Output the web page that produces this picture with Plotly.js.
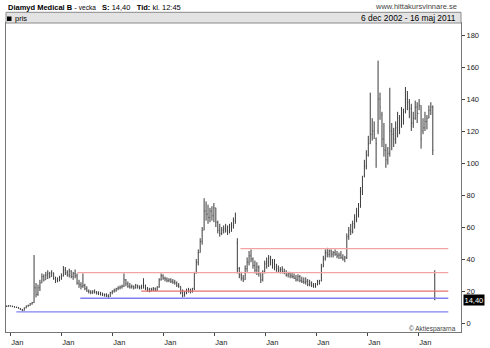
<!DOCTYPE html>
<html>
<head>
<meta charset="utf-8">
<script src="https://cdn.plot.ly/plotly-3.0.1.min.js"></script>
<style>html,body{margin:0;padding:0;background:#fff}#chart{width:490px;height:348px}</style>
</head>
<body>
<div id="chart"></div>
<script>
// Weekly price bars (every second week), Diamyd Medical B, 6 dec 2002 - 16 maj 2011
const startDate = '2002-12-06';
const stepDays = 14;
const high = [
 11,11.2,11,10.8,10.5,10.2,10,9.4,8.8,9.8,
 11,11.5,12.5,13.2,42.5,25,24,27,31,30.5,
 32,33,32,33,31.5,29,28.5,29.5,31,35.6,
 35,33,34,33,32,33.5,31,27,25.5,31,
 24.5,23,21,20.5,20.5,21,20,19.8,19.5,19,
 18.5,18.6,18,19.5,20.5,21.5,22,23,23.5,24,
 31,27.5,26,25,24,23.5,24.5,24,23.5,24,
 28,24,22.5,22,22,22.5,22.2,23,28,31,
 30.5,29,28.5,28,28,27.5,27,26,25,23,
 21,20,21.5,22,21.5,22,32,40,46,53,
 60,78,76,74,72,73,75,72,64,62,
 60,61,62,61,62,63,66,69,53,35,
 32,30,36,41,45,46,41,39,38,36,
 31,33,39,41,42.5,42,40,40,37,36,
 35,35.5,34,33,32,32,31.5,31,30,30.5,
 30,29,28.5,28.5,27.5,27,26,25,25,27,
 27,37,42,46,47,46,46,45,46,45,
 44,45,43,42,56,60,62,64,68,72,
 75,85,92,102,108,117,144,128,126,116,
 164,144,132,125,112,110,147,125,122,126,
 132,130,135,134,147.5,145,140,137,132,139,
 138,140,136,128,132,130,136,138,136,33];
const low = [
 10,10.2,10.3,10,9.6,9.4,9,8.2,7.4,7.8,
 9.2,10.2,10.8,11.5,12.5,16,17,20,25,26,
 27,27.5,28,29,27,25,25.5,26,27,29,
 30,29,28.5,28,27,28,24,22,21,22,
 20.5,19.5,18.5,18,18.2,18.5,17.8,17.5,17.2,16.8,
 16.5,16.2,15.8,16.5,18,19,19.5,20.5,21,21.5,
 22.5,23,22,21.5,21.5,21,21.5,21.5,21,21.2,
 21.5,20.5,19.5,19.2,19.8,20,20,20.2,22,26.5,
 27,26,25.5,25.5,25,24.5,24,22.5,22,18,
 16,16.5,18,19,18.5,19,20.5,31,36,44,
 49,58,64,62,63,64,63,60,56,54,
 55,56,56.5,55,56,57,59,62,31,28,
 26.5,25.6,27,32,36,38,34,31,30,29,
 25,26,31,34,35,36,34,33,32,31.5,
 31,31,30.5,29,28.5,28,28,27.5,26,26,
 25.5,25,24.5,24,23,23,22.5,22,22,23.5,
 24,26,35,39,41,41,41,41,42,40.5,
 40,40,39,38,40,52,55,56,59,63,
 66,72,80,91,96,104,112,114,115,97,
 118,127,110,104,97,99,104,108,110,112,
 116,118,122,124,131,133,128,120,122,127,
 125,133,109,118,120,121,128,130,105,14.4];
const open = [
 10.4,10.5,10.8,10.6,10.2,10,9.8,9.2,8.5,7.8,
 9.5,10.6,11,12,12.8,22,18,22,25,29,
 27,30,31,29,31.5,28,27,26.5,28.5,29.5,
 33,31.5,30,32.5,29,31,29.5,25,24,23,
 23.5,21.5,20,19.5,19,19.8,19,18.5,18.8,18,
 17.5,17.8,17,16.5,19,20,20.5,21.5,22,22.5,
 23,27,24.5,23,22.5,23,22,23.5,22.5,22,
 23,23.5,21.5,20.5,20,21,21.5,20.5,22.5,27,
 29.5,28,27.5,26.5,27,26,25.5,25,23.5,23,
 19,17,18.5,20.5,21,19.5,21.5,31,38,44,
 51,58,70,68,66,70,67,72,63,58,
 56,58,59,58,57,60,61,64,50,34,
 30,28,27,34,38,42,40,36,33,35,
 31,27,32,37,38,40,38,37,35,34,
 33,33.5,32,31.5,30,31,29.5,29,28,27,
 29,26.5,26,25.5,26,24,25,23.5,23,24.5,
 26,26.5,35,40,44,43,45,43,44,43,
 42,42.5,41,40,41,54,58,57,62,65,
 70,73,82,92,98,105,112,118,120,115,
 120,140,130,115,108,102,106,120,118,115,
 122,128,124,130,132,140,138,134,125,128,
 135,131,136,120,122,126,128,133,135,30];
const close = [
 10.5,10.8,10.6,10.2,10,9.8,9.2,8.5,7.8,9.5,
 10.6,11,12,12.8,22,18,22,25,29,27,
 30,31,29,31.5,28,27,26.5,28.5,29.5,33,
 31.5,30,32.5,29,31,29.5,25,24,23,23.5,
 21.5,20,19.5,19,19.8,19,18.5,18.8,18,17.5,
 17.8,17,16.5,19,20,20.5,21.5,22,22.5,23,
 27,24.5,23,22.5,23,22,23.5,22.5,22,23,
 23.5,21.5,20.5,20,21,21.5,20.5,22.5,27,29.5,
 28,27.5,26.5,27,26,25.5,25,23.5,23,19,
 17,18.5,20.5,21,19.5,21.5,31,38,44,51,
 58,70,68,66,70,67,72,63,58,56,
 58,59,58,57,60,61,64,67,34,30,
 28,27,34,38,42,40,36,33,35,31,
 27,32,37,38,40,38,37,35,34,33,
 33.5,32,31.5,30,31,29.5,29,28,27,29,
 26.5,26,25.5,26,24,25,23.5,23,24.5,26,
 26.5,35,40,44,43,45,43,44,43,42,
 42.5,41,40,41,54,58,57,62,65,70,
 73,82,90,98,105,112,118,120,118,112,
 140,135,115,108,102,106,120,118,115,122,
 128,124,130,127,140,138,134,125,128,135,
 131,136,115,122,126,128,133,135,108,14.4];

// Support / resistance lines drawn on the chart
const levelValue = [31.5, 20, 15.5, 7, 46.5];
const levelStart = ['2004-04-25', '2005-07-27', '2004-05-16', '2003-02-13', '2007-07-07'];
const levelEnd   = ['2011-08-04', '2011-08-04', '2011-08-04', '2011-08-04', '2011-08-04'];
const levelKind  = ['resistance', 'support-red', 'support-blue', 'support-blue', 'resistance'];

const yTicks = [0, 20, 40, 60, 80, 100, 120, 140, 160, 180];
const lastPrice = 14.40;
const lastPriceLabel = '14,40';

// ---------- build ----------
const dates = high.map((_, i) => {
  const d = new Date(startDate + 'T00:00:00Z');
  d.setUTCDate(d.getUTCDate() + i * stepDays);
  return d.toISOString().slice(0, 10);
});

const kindColor = {'resistance': '#f4a3a3', 'support-red': '#e27272', 'support-blue': '#8080f2'};

const traces = [];
levelValue.forEach((v, k) => {
  traces.push({
    type: 'scatter', mode: 'lines', x: [levelStart[k], levelEnd[k]], y: [v, v],
    line: {color: kindColor[levelKind[k]], width: 1.3}, hoverinfo: 'skip'
  });
});
traces.push({
  type: 'ohlc', x: dates, open: open, high: high, low: low, close: close,
  increasing: {line: {color: '#3c3c3c', width: 1}},
  decreasing: {line: {color: '#3c3c3c', width: 1}},
  tickwidth: 0.25, hoverinfo: 'skip'
});

const T = 23, B = 332, L = 6, R = 461;
const py = Y => (B - Y) / (B - T);
const px = X => (X - L) / (R - L);
const FONT = 'Liberation Sans, Arial, sans-serif';

const layout = {
  width: 490, height: 348,
  margin: {l: L, r: 490 - R, t: T, b: 348 - B, pad: 0},
  paper_bgcolor: '#ffffff', plot_bgcolor: '#ffffff',
  showlegend: false,
  font: {family: FONT, size: 7.5, color: '#222'},
  xaxis: {
    type: 'date', range: ['2002-12-01', '2011-11-03'],
    rangeslider: {visible: false},
    tickformat: '%b', dtick: 'M12', tick0: '2003-01-01',
    ticks: 'outside', ticklen: 3, tickcolor: '#444', tickwidth: 1,
    ticklabelshift: 7,
    showgrid: false, zeroline: false,
    showline: true, linecolor: '#777', linewidth: 1, mirror: true,
    tickfont: {family: FONT, size: 7.5, color: '#222'}
  },
  yaxis: {
    side: 'right', range: [-5.6, 187.5],
    tickvals: yTicks, ticktext: yTicks.map(String),
    ticks: 'outside', ticklen: 3, tickcolor: '#444', tickwidth: 1,
    showgrid: false, zeroline: false,
    showline: true, linecolor: '#777', linewidth: 1, mirror: true,
    tickfont: {family: FONT, size: 7.5, color: '#222'}
  },
  shapes: [
    {type: 'rect', xref: 'paper', yref: 'paper', x0: 0, x1: 1, y0: 1, y1: py(12.3),
     fillcolor: '#e3e3e3', line: {color: '#8a8a8a', width: 1}, layer: 'above'},
    {type: 'rect', xref: 'paper', yref: 'paper', x0: px(7), x1: px(11.5), y0: py(21), y1: py(16.5),
     fillcolor: '#000', line: {width: 0}, layer: 'above'}
  ],
  annotations: [
    {xref: 'paper', yref: 'paper', x: px(6), y: py(7.3), xanchor: 'left', yanchor: 'middle', showarrow: false,
     text: '<b>Diamyd Medical B</b> - <span style="font-size:6.5px">vecka</span>   <b>S:</b> 14,40   <b>Tid:</b> kl. 12:45',
     font: {family: FONT, size: 7.5, color: '#000'}},
    {xref: 'paper', yref: 'paper', x: px(459), y: py(7), xanchor: 'right', yanchor: 'middle', showarrow: false,
     text: 'www.hittakursvinnare.se', font: {family: FONT, size: 7.5, color: '#444'}},
    {xref: 'paper', yref: 'paper', x: px(12.5), y: py(18.5), xanchor: 'left', yanchor: 'middle', showarrow: false,
     text: 'pris', font: {family: FONT, size: 7.5, color: '#000'}},
    {xref: 'paper', yref: 'paper', x: px(458), y: py(17.8), xanchor: 'right', yanchor: 'middle', showarrow: false,
     text: '6 dec 2002 - 16 maj 2011', font: {family: FONT, size: 8.4, color: '#000'}},
    {xref: 'paper', yref: 'y', x: 1, y: lastPrice, xanchor: 'left', yanchor: 'middle', showarrow: false,
     xshift: 2, text: lastPriceLabel, bgcolor: '#000', borderpad: 0.5,
     font: {family: FONT, size: 7.5, color: '#fff'}},
    {xref: 'paper', yref: 'paper', x: px(458), y: py(328.5), xanchor: 'right', yanchor: 'middle', showarrow: false,
     text: '© Aktiespararna', font: {family: FONT, size: 6.5, color: '#444'}}
  ]
};

Plotly.newPlot('chart', traces, layout, {staticPlot: true, displayModeBar: false});
</script>
</body>
</html>
